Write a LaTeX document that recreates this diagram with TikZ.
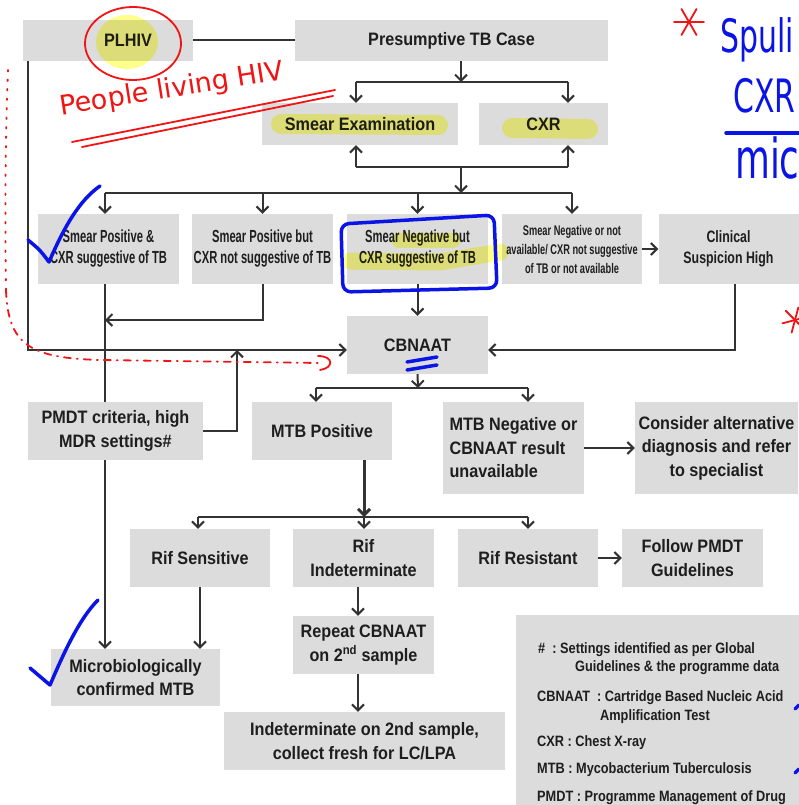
\documentclass[tikz,border=0pt]{standalone}
\usepackage{fontspec}
\setmainfont{Liberation Sans}
\newfontfamily\boxfont[FakeStretch=0.9]{Liberation Sans}
\newfontfamily\midfont[FakeStretch=0.75]{Liberation Sans}
\newfontfamily\narrowfont[FakeStretch=0.64]{Liberation Sans}
\newfontfamily\tinyfont[FakeStretch=0.66]{Liberation Sans}
\newfontfamily\legfont[FakeStretch=0.85]{Liberation Sans}
\newfontfamily\handfont{DejaVu Sans}
\newfontfamily\scrawl[FakeStretch=0.65]{DejaVu Sans}
\usetikzlibrary{arrows.meta, backgrounds}
\definecolor{boxgray}{HTML}{DCDCDC}
\definecolor{ink}{HTML}{1E1E1E}
\definecolor{wire}{HTML}{333333}
\definecolor{marker}{HTML}{FFFF8C}
\definecolor{bluepen}{HTML}{0A14E6}
\definecolor{redpen}{HTML}{F01414}

\begin{document}
\begin{tikzpicture}[
  x=1pt, y=-1pt,
  box/.style={fill=boxgray, text=ink, align=center, inner sep=2pt,
              font=\boxfont\bfseries\fontsize{18}{23.5}\selectfont},
  midbox/.style={box, font=\midfont\bfseries\fontsize{16.5}{21}\selectfont},
  smallbox/.style={box, font=\narrowfont\bfseries\fontsize{17.5}{21}\selectfont},
  tinybox/.style={box, font=\tinyfont\bfseries\fontsize{14}{19}\selectfont},
  wireline/.style={draw=wire, line width=2pt},
  arrow/.style={wireline, -{Straight Barb[length=6pt, width=12pt]}},
  legtext/.style={anchor=west, inner sep=0pt, text=ink,
                  font=\legfont\bfseries\fontsize{15}{18}\selectfont},
  highlight/.style={draw=marker, line width=20pt, line cap=round, line join=round},
  redink/.style={draw=redpen, line width=1.8pt, line cap=round, line join=round},
  blueink/.style={draw=bluepen, line width=3.5pt, line cap=round, line join=round},
]
\useasboundingbox (0,0) rectangle (799,805);
\clip (0,0) rectangle (799,805);

% Rows 1-2 -- case and first tests
\node[box, minimum width=170pt, minimum height=41pt] (plhiv) at (108,40.5) {\hspace*{40pt}PLHIV};
\node[box, minimum width=313pt, minimum height=41pt] (ptb) at (451.5,40.5) {Presumptive TB Case};
\node[box, minimum width=196pt, minimum height=42pt] (smear) at (360,124) {Smear Examination};
\node[box, minimum width=129pt, minimum height=42pt] (cxr) at (543.5,124) {CXR};

% Row 3 -- test outcomes
\node[smallbox, minimum width=141pt, minimum height=70pt] (sposcxr) at (108.5,249) {Smear Positive \&\\CXR suggestive of TB};
\node[smallbox, minimum width=141pt, minimum height=70pt] (spnot) at (262.5,249) {Smear Positive but\\CXR not suggestive of TB};
\node[smallbox, minimum width=141pt, minimum height=70pt] (snegcxr) at (417.5,249) {Smear Negative but\\CXR suggestive of TB};
\node[tinybox, minimum width=140pt, minimum height=70pt] (snegnot) at (572,249) {Smear Negative or not\\available/ CXR not suggestive\\of TB or not available};
\node[midbox, minimum width=140pt, minimum height=70pt] (clinical) at (728.5,249) {Clinical\\Suspicion High};

% Rows 4-5 -- CBNAAT and result
\node[box, minimum width=141pt, minimum height=58pt] (cbnaat) at (417.5,345) {CBNAAT};
\node[box, minimum width=175pt, minimum height=58pt] (pmdtcrit) at (115.5,431) {PMDT criteria, high\\MDR settings\#};
\node[box, minimum width=140pt, minimum height=58pt] (mtbpos) at (322,431) {MTB Positive};
\node[box, align=left, minimum width=141pt, minimum height=92pt] (mtbneg) at (513.5,448) {MTB Negative or\\CBNAAT result\\unavailable};
\node[box, minimum width=163pt, minimum height=92pt] (consider) at (716.5,448) {Consider alternative\\diagnosis and refer\\to specialist};

% Row 6 -- rifampicin
\node[box, minimum width=140pt, minimum height=58pt] (rifsens) at (200,558) {Rif Sensitive};
\node[box, minimum width=141pt, minimum height=58pt] (rifind) at (363.5,558) {Rif\\Indeterminate};
\node[box, minimum width=140pt, minimum height=58pt] (rifres) at (528,558) {Rif Resistant};
\node[box, minimum width=141pt, minimum height=58pt] (followpmdt) at (692.5,558) {Follow PMDT\\Guidelines};

% Rows 7-8
\node[box, minimum width=169pt, minimum height=57pt] (micro) at (135.5,677.5) {Microbiologically\\confirmed MTB};
\node[box, minimum width=141pt, minimum height=58pt] (repeat) at (363.5,645) {Repeat CBNAAT\\on 2\textsuperscript{nd} sample};
\node[box, minimum width=281pt, minimum height=58pt] (indet) at (364.5,741) {Indeterminate on 2nd sample,\\collect fresh for LC/LPA};

% Legend
\node[fill=boxgray, inner sep=0pt, minimum width=300pt, minimum height=200pt, anchor=north west] (legend) at (516,615) {};
\node[legtext] (lg1) at (538,650) {\#\ \ :\ Settings identified as per Global};
\node[legtext] (lg2) at (575,668) {Guidelines \& the programme data};
\node[legtext] (lg3) at (537,698) {CBNAAT\ \ : Cartridge Based Nucleic Acid};
\node[legtext] (lg4) at (600,717) {Amplification Test};
\node[legtext] (lg5) at (537,743) {CXR : Chest X-ray};
\node[legtext] (lg6) at (537,770) {MTB : Mycobacterium Tuberculosis};
\node[legtext] (lg7) at (537,798) {PMDT : Programme Management of Drug};

% Junctions
\coordinate (split1) at (461,82);
\coordinate (smin) at (356,82);
\coordinate (cxin) at (568,82);
\coordinate (split2) at (461,167);
\coordinate (smout) at (356,167);
\coordinate (cxout) at (568,167);
\coordinate (split3) at (461,193);
\coordinate (fanL) at (105,193);
\coordinate (fanR) at (572,193);
\coordinate (merge) at (105,320);
\coordinate (plx) at (28,0);
\coordinate (cbin) at (0,350);
\coordinate (cross) at (237,350);
\coordinate (clx) at (735,0);
\coordinate (split4) at (418,388);
\coordinate (posin) at (316,388);
\coordinate (negin) at (528,388);
\coordinate (split5) at (364,517);
\coordinate (sensin) at (198,517);
\coordinate (resin) at (528,517);
\coordinate (repx) at (358,0);

% Arrows -- top
\draw[wireline] (plhiv) -- (ptb);
\draw[arrow] (ptb.south -| split1) -- (split1);
\draw[wireline] (smin) -- (cxin);
\draw[arrow] (smin) -- (smin |- smear.north);
\draw[arrow] (cxin) -- (cxin |- cxr.north);
\draw[wireline] (smout) -- (cxout);
\draw[arrow] (smout) -- (smout |- smear.south);
\draw[arrow] (cxout) -- (cxout |- cxr.south);
\draw[arrow] (split2) -- (split3);

% Arrows -- outcomes
\draw[wireline] (fanL) -- (fanR);
\draw[arrow] (fanL) -- (fanL |- sposcxr.north);
\foreach \n in {spnot, snegcxr, snegnot}
  \draw[arrow] (fanL -| \n.north) -- (\n.north);
\draw[arrow] (snegnot) -- (clinical);
\draw[arrow] (spnot.south) |- (merge);
\begin{scope}[on background layer]
  \fill[white] (0,0) rectangle (799,805);
  \draw[arrow] (fanL |- sposcxr.south) -- (fanL |- micro.north);
\end{scope}

% Arrows -- into CBNAAT
\draw[arrow] (plhiv.south -| plx) |- (cbnaat.west |- cbin);
\draw[arrow] (pmdtcrit.east) -| (cross);
\draw[arrow] (snegcxr) -- (cbnaat);
\draw[arrow] (clinical.south -| clx) |- (cbnaat.east |- cbin);

% Arrows -- results
\draw[arrow] (cbnaat.south) -- (split4);
\draw[wireline] (posin) -- (negin);
\draw[arrow] (posin) -- (posin |- mtbpos.north);
\draw[arrow] (negin) -- (negin |- mtbneg.north);
\draw[arrow] (mtbneg) -- (consider);
\draw[arrow, line width=3pt] (mtbpos.south -| split5) -- (split5);
\draw[wireline] (sensin) -- (resin);
\draw[arrow] (sensin) -- (sensin |- rifsens.north);
\draw[arrow] (split5) -- (split5 |- rifind.north);
\draw[arrow] (resin) -- (resin |- rifres.north);
\draw[arrow] (rifres) -- (followpmdt);
\draw[arrow] (rifsens) -- (rifsens |- micro.north);
\draw[arrow] (rifind.south -| repx) -- (repeat.north -| repx);
\draw[arrow] (repeat.south -| repx) -- (indet.north -| repx);

% Marker highlights
\begin{scope}[blend mode=multiply]
  \fill[marker] (127,42) ellipse [x radius=31pt, y radius=27pt];
  \draw[highlight] (281,124) -- (438,125);
  \draw[highlight] (512,128) -- (588,129);
  \draw[highlight, line width=15pt] (399,240) -- (453,240);
  \draw[highlight, line width=17pt] (350,261) -- (440,262) -- (500,252);
\end{scope}

% Red pen notes
\draw[redink] (133,43.5) ellipse [x radius=48pt, y radius=36.5pt];
\node[text=redpen, rotate=9, inner sep=0pt, font=\handfont\fontsize{27}{27}\selectfont] (hivnote) at (172,90) {People living HIV};
\draw[redink] (72,142) -- (335,90);
\draw[redink] (82,147) -- (333,96);
\draw[redink, dash pattern=on 1.5pt off 8pt] (8,70) .. controls (5,150) and (5,220) .. (6,290);
\draw[redink, dash pattern=on 7pt off 6pt on 1pt off 6pt] (6,290) .. controls (8,345) and (30,358) .. (100,360) -- (320,363);
\draw[redink] (318,356) .. controls (334,356) and (334,368) .. (320,370);
\foreach \a in {0,60,120} {
  \draw[redink] (689,22) ++(\a:15pt) -- ++(\a+180:30pt);
  \draw[redink] (795,320) ++(\a+15:13pt) -- ++(\a+195:26pt);
}

% Blue pen notes
\draw[blueink, rounded corners=8pt] (341,224) -- (494,215) -- (497,288) -- (343,292) -- cycle;
\draw[blueink] (407,362) -- (437,357);
\draw[blueink] (407,370) -- (437,365);
\draw[blueink] (28,240) .. controls (40,250) .. (49,262) .. controls (65,225) and (80,200) .. (100,186);
\draw[blueink] (30,668) .. controls (40,676) .. (50,685) .. controls (65,650) and (80,618) .. (98,600);
\node[anchor=west, inner sep=0pt, text=bluepen, font=\scrawl\fontsize{46}{46}\selectfont] (spnote) at (720,40) {Spuli};
\node[anchor=west, inner sep=0pt, text=bluepen, font=\scrawl\fontsize{46}{46}\selectfont] (cxrnote) at (733,96) {CXR};
\draw[blueink] (726,133) -- (799,133);
\node[anchor=west, inner sep=0pt, text=bluepen, font=\scrawl\fontsize{55}{55}\selectfont] (micnote) at (735,158) {mic};
\draw[blueink] (795,709) -- (799,705);
\draw[blueink] (795,773) -- (799,769);

\end{tikzpicture}
\end{document}
